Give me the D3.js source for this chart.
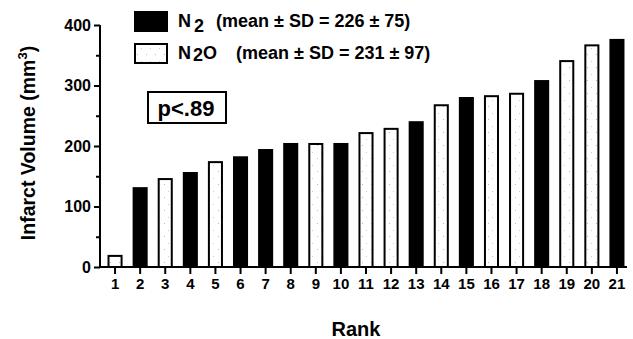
<!DOCTYPE html>
<html>
<head>
<meta charset="utf-8">
<script src="https://cdn.jsdelivr.net/npm/d3@7"></script>
<style>
  body { margin: 0; background: #fff; }
  svg { display: block; font-family: "Liberation Sans", Arial, Helvetica, sans-serif; font-weight: bold; }
</style>
</head>
<body>
<div id="chart"></div>
<script>
// ranks 1..21, value, group per bar
var ranks = d3.range(1, 22);
var volumes = [20, 132, 147, 157, 175, 183, 195, 205, 205, 205, 223, 230, 241, 269, 281, 284, 288, 309, 342, 368, 377];
var groups = ["N2O", "N2", "N2O", "N2", "N2O", "N2", "N2", "N2", "N2O", "N2", "N2O", "N2O", "N2", "N2O", "N2", "N2O", "N2O", "N2", "N2O", "N2O", "N2"];
var yTicks = [0, 100, 200, 300, 400];
var yMinorTicks = [50, 150, 250, 350];

var width = 633, height = 339;

var svg = d3.select("#chart").append("svg")
    .attr("width", width)
    .attr("height", height);

// stipple pattern for the N2O bars (sparse grey dots)
var defs = svg.append("defs");
var pat = defs.append("pattern")
    .attr("id", "stipple")
    .attr("patternUnits", "userSpaceOnUse")
    .attr("width", 9).attr("height", 13);
pat.append("rect").attr("width", 9).attr("height", 13).attr("fill", "#fff");
pat.append("rect").attr("x", 2).attr("y", 2).attr("width", 1).attr("height", 1).attr("fill", "#bbb");
pat.append("rect").attr("x", 6).attr("y", 9).attr("width", 1).attr("height", 1).attr("fill", "#ccc");

var x = d3.scaleBand()
    .domain(ranks)
    .range([102.5, 629.5])
    .paddingInner(0.4)
    .paddingOuter(0.2);

var y = d3.scaleLinear()
    .domain([0, 400])
    .range([267, 25]);

var data = ranks.map(function(r, i){ return {rank: r, v: volumes[i], g: groups[i]}; });

// bars
svg.selectAll(".bar")
    .data(data)
    .join("rect")
    .attr("class", "bar")
    .attr("x", function(d){ return x(d.rank) + (d.g == "N2O" ? 1 : 0); })
    .attr("y", function(d){ return y(d.v) + (d.g == "N2O" ? 1 : 0); })
    .attr("width", function(d){ return x.bandwidth() - (d.g == "N2O" ? 2 : 0); })
    .attr("height", function(d){ return y(0) - y(d.v) - (d.g == "N2O" ? 1 : 0); })
    .attr("fill", function(d){ return d.g == "N2" ? "#000" : "url(#stipple)"; })
    .attr("stroke", "#000")
    .attr("stroke-width", function(d){ return d.g == "N2" ? 0 : 2; });

// y axis
var yAxis = svg.append("g")
    .attr("transform", "translate(100,0)")
    .call(d3.axisLeft(y).tickValues(yTicks).tickSize(6).tickPadding(3));
svg.append("g")
    .attr("transform", "translate(100,0)")
    .call(d3.axisLeft(y).tickValues(yMinorTicks).tickSize(4).tickFormat(""))
    .select(".domain").remove();

// x axis
var xAxis = svg.append("g")
    .attr("transform", "translate(0,267)")
    .call(d3.axisBottom(x).tickSize(7).tickPadding(4));

svg.selectAll(".domain").attr("stroke", "#000").attr("stroke-width", 2);
svg.selectAll(".tick line").attr("stroke", "#000").attr("stroke-width", 2);
xAxis.select(".domain").attr("d", "M100,0H627");
yAxis.select(".domain").attr("d", "M0,25V268");
svg.selectAll(".tick text")
    .attr("fill", "#000")
    .style("font-family", "'Liberation Sans', Arial, sans-serif")
    .style("font-weight", "bold")
    .style("font-size", "15px");
yAxis.selectAll(".tick text").style("font-size", "16px");

// axis titles
svg.append("text")
    .attr("x", 356).attr("y", 336)
    .attr("text-anchor", "middle")
    .style("font-size", "20px")
    .text("Rank");

var yl = svg.append("text")
    .attr("transform", "translate(35,143) rotate(-90)")
    .attr("text-anchor", "middle")
    .style("font-size", "19.5px");
yl.append("tspan").text("Infarct Volume (mm");
yl.append("tspan").attr("dy", -8).style("font-size", "13px").text("3");
yl.append("tspan").attr("dy", 8).text(")");

// legend
var legend = [
  {g: "N2", sd: "(mean \u00b1 SD = 226 \u00b1 75)"},
  {g: "N2O", sd: "(mean \u00b1 SD = 231 \u00b1 97)"}
];
legend.forEach(function(l, i){
  var ly = 11 + i * 32;
  svg.append("rect")
    .attr("x", l.g == "N2" ? 134 : 135).attr("y", ly + (l.g == "N2" ? 0 : 1))
    .attr("width", l.g == "N2" ? 34 : 32).attr("height", l.g == "N2" ? 21 : 19)
    .attr("fill", l.g == "N2" ? "#000" : "url(#stipple)")
    .attr("stroke", "#000")
    .attr("stroke-width", l.g == "N2" ? 0 : 2);
  var t = svg.append("text")
    .attr("x", 178).attr("y", ly + 16)
    .style("font-size", "18px");
  t.append("tspan").text("N");
  if (l.g == "N2") {
    t.append("tspan").attr("dx", 3).attr("dy", 5).text("2");
    t.append("tspan").attr("x", 216).attr("dy", -5).text(l.sd);
  } else {
    t.append("tspan").attr("dx", 2).attr("dy", 2).text("2");
    t.append("tspan").attr("dy", -2).text("O");
    t.append("tspan").attr("x", 236).text(l.sd);
  }
});

// p value box
svg.append("rect")
    .attr("x", 148).attr("y", 92)
    .attr("width", 78).attr("height", 31)
    .attr("fill", "#fff")
    .attr("stroke", "#000")
    .attr("stroke-width", 2);
svg.append("text")
    .attr("x", 186).attr("y", 116)
    .attr("text-anchor", "middle")
    .style("font-size", "22px")
    .text("p<.89");
</script>
</body>
</html>
